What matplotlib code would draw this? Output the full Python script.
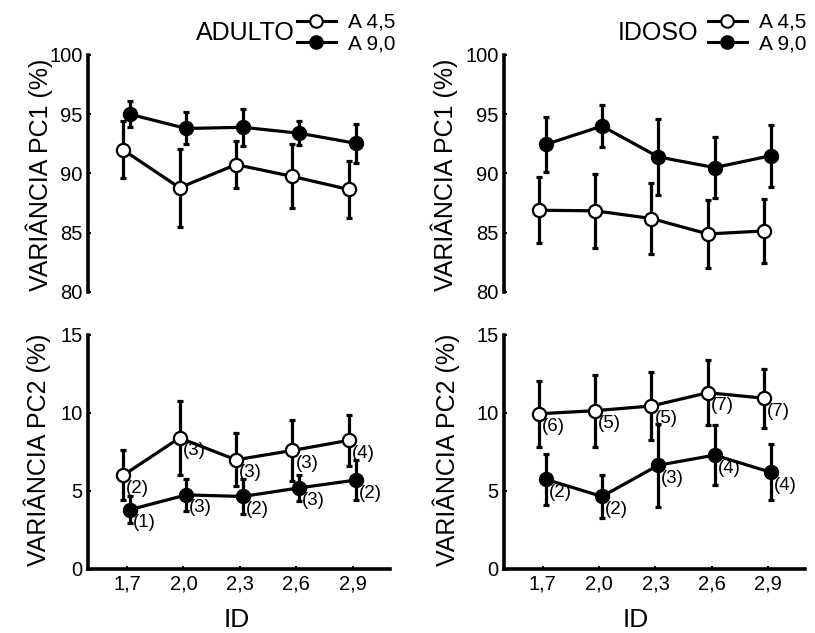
import matplotlib
matplotlib.use('Agg')
import matplotlib.pyplot as plt
from matplotlib.lines import Line2D

plt.rcParams['font.family'] = ['Liberation Sans', 'DejaVu Sans']

# eixo X (ID)
id_vals = [1.7, 2.0, 2.3, 2.6, 2.9]
id_labels = ['1,7', '2,0', '2,3', '2,6', '2,9']

# ADULTO - PC1
adulto_pc1_a45 = [92.0, 88.8, 90.75, 89.75, 88.65]
adulto_pc1_a45_err = [2.4, 3.3, 2.0, 2.7, 2.4]
adulto_pc1_a90 = [95.0, 93.8, 93.9, 93.4, 92.55]
adulto_pc1_a90_err = [1.1, 1.35, 1.55, 1.0, 1.65]

# IDOSO - PC1
idoso_pc1_a45 = [86.9, 86.85, 86.2, 84.9, 85.15]
idoso_pc1_a45_err = [2.8, 3.1, 3.0, 2.9, 2.7]
idoso_pc1_a90 = [92.45, 94.0, 91.4, 90.5, 91.5]
idoso_pc1_a90_err = [2.3, 1.8, 3.2, 2.55, 2.6]

# ADULTO - PC2
adulto_pc2_a45 = [6.0, 8.4, 7.0, 7.6, 8.25]
adulto_pc2_a45_err = [1.6, 2.4, 1.7, 1.95, 1.65]
adulto_pc2_a90 = [3.8, 4.75, 4.65, 5.2, 5.7]
adulto_pc2_a90_err = [0.85, 1.0, 1.1, 0.85, 1.3]
adulto_n_a45 = [2, 3, 3, 3, 4]
adulto_n_a90 = [1, 3, 2, 3, 2]

# IDOSO - PC2
idoso_pc2_a45 = [9.95, 10.15, 10.45, 11.3, 10.95]
idoso_pc2_a45_err = [2.1, 2.3, 2.2, 2.1, 1.9]
idoso_pc2_a90 = [5.75, 4.65, 6.65, 7.3, 6.2]
idoso_pc2_a90_err = [1.65, 1.4, 2.65, 1.9, 1.8]
idoso_n_a45 = [6, 5, 5, 7, 7]
idoso_n_a90 = [2, 2, 3, 4, 4]

W, H = 815, 633
fig = plt.figure(figsize=(W / 100, H / 100), dpi=100)


def box(x0, y0, x1, y1):
    # pixel box -> figure fraction
    return [x0 / W, 1 - y1 / H, (x1 - x0) / W, (y1 - y0) / H]


ax_tl = fig.add_axes(box(88, 55, 390, 292))
ax_tr = fig.add_axes(box(504, 55, 805, 292))
ax_bl = fig.add_axes(box(88, 335, 390, 569))
ax_br = fig.add_axes(box(504, 335, 805, 569))

LW = 2.3
MS = 9.5


def serie(ax, y, err, filled, dx):
    x = [v + dx for v in id_vals]
    ax.errorbar(x, y, yerr=err, fmt='none', ecolor='black', elinewidth=LW,
                capsize=2.5, capthick=LW, zorder=2, clip_on=False)
    ax.plot(x, y, '-o', color='black', lw=LW, ms=MS, mew=1.6,
            mfc='black' if filled else 'white', mec='black', zorder=3,
            clip_on=False)
    return x


def rotulos(ax, x, y, n):
    for xi, yi, ni in zip(x, y, n):
        ax.annotate(f'({ni})', (xi, yi), xytext=(3, -13),
                    textcoords='offset pixels', ha='left', va='center',
                    fontsize=13.5, zorder=4)


paineis = [
    (ax_tl, adulto_pc1_a45, adulto_pc1_a45_err, adulto_pc1_a90, adulto_pc1_a90_err, None, None),
    (ax_tr, idoso_pc1_a45, idoso_pc1_a45_err, idoso_pc1_a90, idoso_pc1_a90_err, None, None),
    (ax_bl, adulto_pc2_a45, adulto_pc2_a45_err, adulto_pc2_a90, adulto_pc2_a90_err, adulto_n_a45, adulto_n_a90),
    (ax_br, idoso_pc2_a45, idoso_pc2_a45_err, idoso_pc2_a90, idoso_pc2_a90_err, idoso_n_a45, idoso_n_a90),
]

for ax, y45, e45, y90, e90, n45, n90 in paineis:
    x45 = serie(ax, y45, e45, False, -0.021)
    x90 = serie(ax, y90, e90, True, 0.015)
    if n45 is not None:
        rotulos(ax, x45, y45, n45)
        rotulos(ax, x90, y90, n90)
    ax.set_xlim(1.493, 3.097)
    for s in ['top', 'right']:
        ax.spines[s].set_visible(False)
    ax.spines['left'].set_linewidth(2.6)
    ax.spines['bottom'].set_linewidth(2.6)
    ax.tick_params(direction='in', length=2.5, width=1.5, labelsize=14.5, pad=4)

for ax in [ax_tl, ax_tr]:
    ax.set_ylim(80, 100)
    ax.set_yticks([80, 85, 90, 95, 100])
    ax.spines['bottom'].set_visible(False)
    ax.set_xticks([])

for ax in [ax_bl, ax_br]:
    ax.set_ylim(0, 15)
    ax.set_yticks([0, 5, 10, 15])
    ax.set_xticks(id_vals)
    ax.set_xticklabels(id_labels)

# rotulos dos eixos
fig.text(39 / W, 1 - 175 / H, 'VARIÂNCIA PC1 (%)', rotation=90, ha='center', va='center', fontsize=18)
fig.text(444 / W, 1 - 175 / H, 'VARIÂNCIA PC1 (%)', rotation=90, ha='center', va='center', fontsize=18)
fig.text(37 / W, 1 - 450 / H, 'VARIÂNCIA PC2 (%)', rotation=90, ha='center', va='center', fontsize=18)
fig.text(446 / W, 1 - 450 / H, 'VARIÂNCIA PC2 (%)', rotation=90, ha='center', va='center', fontsize=18)
fig.text(237 / W, 1 - 620 / H, 'ID', ha='center', va='center', fontsize=19)
fig.text(636 / W, 1 - 620 / H, 'ID', ha='center', va='center', fontsize=19)

# titulos + legendas
fig.text(295 / W, 1 - 33 / H, 'ADULTO', ha='right', va='center', fontsize=18)
fig.text(698 / W, 1 - 33 / H, 'IDOSO', ha='right', va='center', fontsize=18)

handles = [
    Line2D([], [], color='black', lw=2.2, marker='o', ms=9, mfc='white', mec='black', mew=1.5),
    Line2D([], [], color='black', lw=2.2, marker='o', ms=9, mfc='black', mec='black', mew=1.5),
]
for ax, x0 in [(ax_tl, 297), (ax_tr, 708)]:
    ax.legend(handles, ['A 4,5', 'A 9,0'], loc='upper left',
              bbox_to_anchor=(x0 / W, 1 - 13 / H), bbox_transform=fig.transFigure,
              frameon=False, fontsize=15, borderpad=0, borderaxespad=0,
              handlelength=1.85, handletextpad=0.6, labelspacing=0.1)

fig.savefig('out.png', dpi=100)
